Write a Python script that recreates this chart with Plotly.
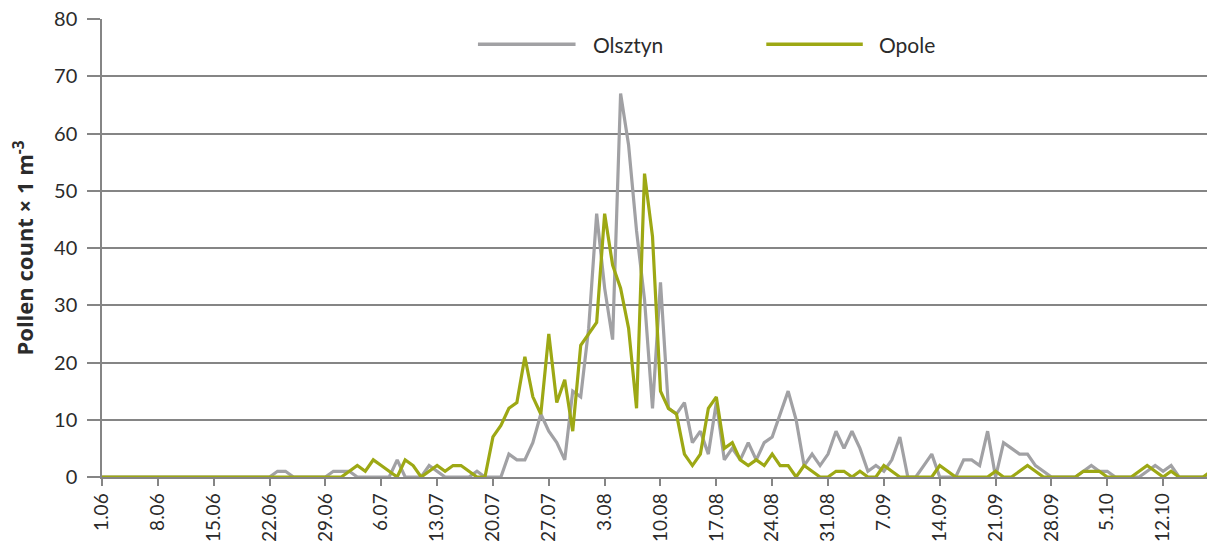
import pandas as pd
import plotly.graph_objects as go

# Daily pollen counts, 1 June – 18 October
start_date = "2000-06-01"
n_days = 140

olsztyn = [0]*22 + [1, 1] + [0]*5 + [1, 1, 1] + [0]*5 + [3] + [0]*3 + [2, 1] + [0]*4 + [1] + [0]*3 + \
    [4, 3, 3, 6, 11, 8, 6, 3, 15, 14,
     26, 46, 33, 24, 67, 58, 43, 31, 12, 34,
     12, 11, 13, 6, 8, 4, 13, 3, 5, 3,
     6, 3, 6, 7, 11, 15, 10, 2, 4, 2,
     4, 8, 5, 8, 5, 1, 2, 1, 3, 7,
     0, 0, 2, 4, 0, 0, 0, 3, 3, 2,
     8, 0, 6, 5, 4, 4, 2, 1, 0, 0,
     0, 0, 1, 2, 1, 1, 0, 0, 0, 0,
     1, 2, 1, 2, 0, 0, 0, 0, 0]

opole = [0]*31 + [1, 2, 1, 3, 2, 1, 0, 3, 2, 0] + \
    [1, 2, 1, 2, 2, 1, 0, 0, 7, 9,
     12, 13, 21, 14, 11, 25, 13, 17, 8, 23,
     25, 27, 46, 37, 33, 26, 12, 53, 42, 15,
     12, 11, 4, 2, 4, 12, 14, 5, 6, 3,
     2, 3, 2, 4, 2, 2, 0, 2, 1, 0,
     0, 1, 1, 0, 1, 0, 0, 2, 1, 0,
     0, 0, 0, 0, 2, 1, 0, 0, 0, 0,
     0, 1, 0, 0, 1, 2, 1, 0, 0, 0,
     0, 0, 1, 1, 1, 0, 0, 0, 0, 1,
     2, 1, 0, 1, 0, 0, 0, 0, 1]

series_names = ["Olsztyn", "Opole"]
series_colors = ["#A1A1A4", "#9DA814"]
tick_step = 7
y_max = 80
y_step = 10

dates = pd.date_range(start_date, periods=n_days)
day_labels = [f"{d.day}.{d.month:02d}" for d in dates]
tick_labels = day_labels[::tick_step]
y_ticks = list(range(0, y_max + 1, y_step))

font_family = "Lato, 'Open Sans', sans-serif"
title_family = "'Open Sans', Lato, sans-serif"
text_color = "#2b2b2b"
grid_color = "#858585"

fig = go.Figure()
for name, vals, col in zip(series_names, [olsztyn, opole], series_colors):
    fig.add_trace(go.Scatter(
        x=day_labels, y=vals, name=name, mode="lines",
        line=dict(color=col, width=3.2), showlegend=False, cliponaxis=False,
    ))

# legend drawn as long line samples with labels (as in the original figure)
legend_y = 0.945
legend_items = [(0.339, 0.427, 0.441), (0.599, 0.686, 0.699)]
for (x0, x1, xt), name, col in zip(legend_items, series_names, series_colors):
    fig.add_shape(type="line", xref="paper", yref="paper", x0=x0, x1=x1,
                  y0=legend_y, y1=legend_y, line=dict(color=col, width=3.5))
    fig.add_annotation(xref="paper", yref="paper", x=xt, y=legend_y, text=name,
                       showarrow=False, xanchor="left", yanchor="middle",
                       font=dict(size=21, family=font_family, color=text_color))

fig.update_layout(
    width=1207, height=539,
    margin=dict(l=94, r=4, t=11, b=70, autoexpand=False),
    plot_bgcolor="white", paper_bgcolor="white",
    font=dict(family=font_family, color=text_color, size=20),
    showlegend=False,
    xaxis=dict(
        type="category", range=[0, n_days - 1], automargin=False,
        tickmode="array", tickvals=tick_labels, ticktext=tick_labels,
        tickangle=-90, ticks="outside", ticklen=7, tickcolor=grid_color, tickwidth=1.5,
        showgrid=False, showline=True, linecolor=grid_color, linewidth=1.5,
        tickfont=dict(size=19, family=font_family, color=text_color),
        zeroline=False,
    ),
    yaxis=dict(
        range=[0, y_max + 0.02], automargin=False,
        tickmode="array", tickvals=y_ticks,
        showgrid=True, gridcolor=grid_color, gridwidth=1.5,
        ticks="outside", ticklen=13, tickcolor=grid_color, tickwidth=1.5,
        showline=True, linecolor=grid_color, linewidth=1.5,
        zeroline=False,
        tickfont=dict(size=20, family=font_family, color=text_color),
        ticklabelstandoff=6, ticklabeloverflow="allow",
        title=dict(text="<b>Pollen count × 1 m<sup>-3</sup></b>",
                   font=dict(size=22, family=title_family, color=text_color),
                   standoff=31),
    ),
)

fig.write_html("out.html")
